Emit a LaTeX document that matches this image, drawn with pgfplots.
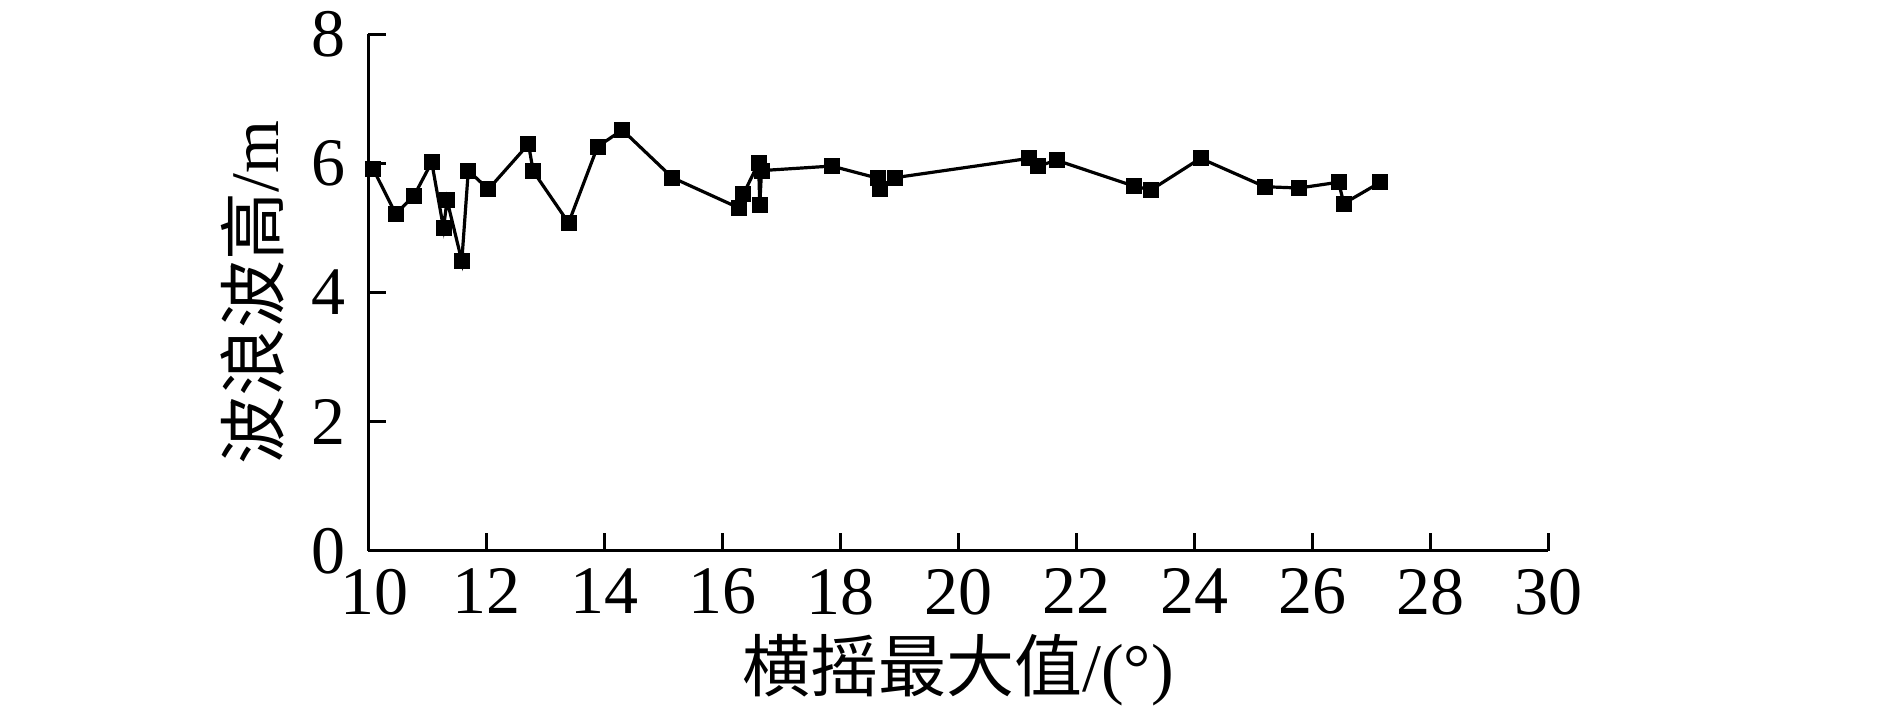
\documentclass[border=0pt]{standalone}
\usepackage{pgfplots}
\pgfplotsset{compat=1.18}
\usepackage{fontspec}
\setmainfont{Liberation Serif}
\newfontfamily\cjk{Noto Sans CJK SC}
\pgfplotstableread{
x y
10.09 5.91
10.47 5.22
10.78 5.50
11.08 6.02
11.28 5.00
11.34 5.43
11.59 4.49
11.70 5.89
12.04 5.60
12.72 6.30
12.80 5.88
13.40 5.08
13.89 6.26
14.31 6.52
15.16 5.78
16.29 5.31
16.36 5.52
16.62 6.01
16.64 5.36
16.67 5.89
17.86 5.96
18.65 5.77
18.68 5.60
18.93 5.78
21.21 6.08
21.36 5.96
21.67 6.05
22.98 5.65
23.27 5.59
24.11 6.08
25.20 5.64
25.78 5.62
26.45 5.71
26.54 5.38
27.16 5.71
}\wavedata
\begin{document}
\begin{tikzpicture}
\begin{axis}[
  scale only axis,
  width=295pt, height=129.1pt,
  xmin=10, xmax=30, ymin=0, ymax=8,
  xtick={10,12,...,30}, ytick={0,2,...,8},
  xticklabels={\hspace*{3pt}10,12,14,16,18,20,22,24,26,28,30},
  axis lines=left,
  axis line style={line width=0.75pt, -},
  tick style={line width=0.75pt, black},
  tick align=inside,
  major tick length=4.5pt,
  /pgf/number format/assume math mode=true,
  ticklabel style={font=\fontsize{17}{20}\selectfont},
  xticklabel style={yshift=-1pt},
  yticklabel style={xshift=-2pt},
  xlabel={{\cjk 横摇最大值}/(°)},
  ylabel={{\cjk 波浪波高}/m},
  label style={font=\fontsize{17}{20}\selectfont},
  xlabel style={yshift=2pt},
  clip=false,
]
\addplot[black, line width=0.8pt, mark=square*, mark size=1.6pt,
  mark options={solid, fill=black}] table[x=x, y=y] {\wavedata};
\coordinate (sw) at (rel axis cs:0,0);
\coordinate (ne) at (rel axis cs:1,1);
\end{axis}
\pgfresetboundingbox
\path[use as bounding box] ([shift={(-92pt,-41.5pt)}]sw) rectangle ([shift={(85.5pt,8.6pt)}]ne);
\end{tikzpicture}
\end{document}
